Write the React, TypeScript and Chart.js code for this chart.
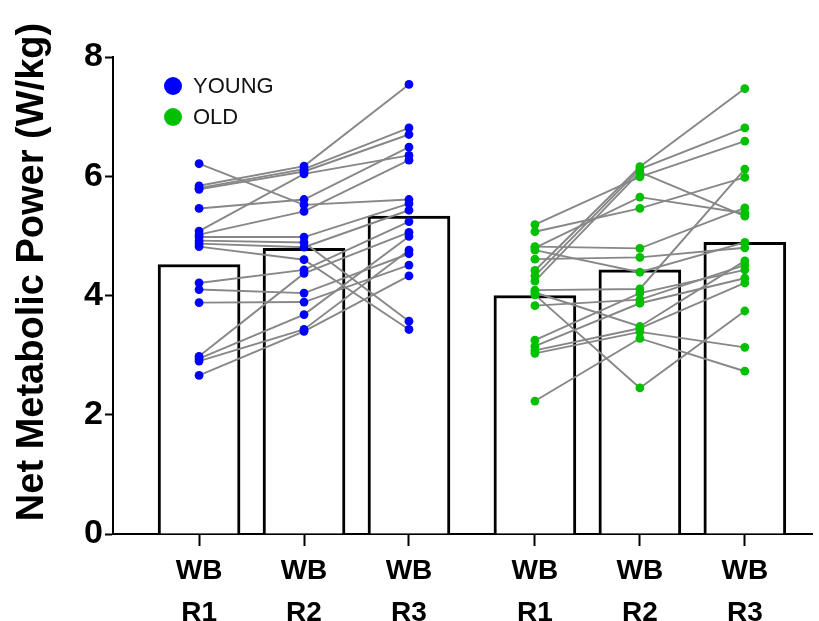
import React, { useEffect, useRef } from "react";
import { Chart, registerables } from "chart.js";

Chart.register(...registerables);

// ---- data ----
const xPositions = [1, 2, 3, 4.2, 5.2, 6.2];
const tickLabels = [
  ["WB", "R1"],
  ["WB", "R2"],
  ["WB", "R3"],
  ["WB", "R1"],
  ["WB", "R2"],
  ["WB", "R3"],
];
const barMeans = [4.52, 4.79, 5.33, 4.0, 4.43, 4.89];

const youngR1 = [6.21, 5.84, 5.8, 5.78, 5.46, 5.08, 5.02, 4.98, 4.92, 4.87, 4.82, 4.21, 4.1, 3.88, 2.98, 2.94, 2.9, 2.66];
const youngR2 = [5.52, 6.17, 6.12, 6.08, 5.61, 6.04, 5.41, 4.98, 4.89, 4.81, 4.6, 4.43, 4.04, 3.89, 4.37, 3.68, 3.43, 3.4];
const youngR3 = [5.61, 7.54, 6.81, 6.7, 6.49, 6.35, 6.27, 5.54, 3.57, 5.43, 3.43, 5.24, 4.7, 4.51, 5.06, 4.99, 4.76, 4.33];

const oldR1 = [5.19, 5.07, 4.82, 4.8, 4.76, 4.61, 4.42, 4.33, 4.24, 4.09, 4.05, 4.01, 3.83, 3.25, 3.15, 3.08, 3.03, 2.23];
const oldR2 = [5.99, 5.46, 4.79, 5.65, 4.39, 4.64, 6.16, 6.12, 6.07, 4.11, 3.48, 2.45, 3.93, 4.04, 3.87, 3.45, 3.39, 3.28];
const oldR3 = [6.59, 5.98, 5.47, 5.38, 4.89, 4.8, 7.47, 6.81, 5.33, 6.12, 4.58, 3.74, 4.51, 4.43, 4.29, 4.21, 3.13, 2.73];

const legendLabels = ["YOUNG", "OLD"];
const yTitle = "Net Metabolic Power (W/kg)";

const BLUE = "#0000ff";
const GREEN = "#00c000";
const LINE_GRAY = "#878787";
const FONT = "'Liberation Sans', Arial, Helvetica, sans-serif";

export default function App() {
  const canvasRef = useRef<HTMLCanvasElement | null>(null);

  useEffect(() => {
    const canvas = canvasRef.current;
    if (!canvas) return;

    const lineSets: any[] = [];
    youngR1.forEach((_, i) => {
      lineSets.push({
        type: "line",
        data: [
          { x: xPositions[0], y: youngR1[i] },
          { x: xPositions[1], y: youngR2[i] },
          { x: xPositions[2], y: youngR3[i] },
        ],
        borderColor: LINE_GRAY,
        borderWidth: 1.9,
        pointRadius: 0,
        fill: false,
        order: 2,
      });
    });
    oldR1.forEach((_, i) => {
      lineSets.push({
        type: "line",
        data: [
          { x: xPositions[3], y: oldR1[i] },
          { x: xPositions[4], y: oldR2[i] },
          { x: xPositions[5], y: oldR3[i] },
        ],
        borderColor: LINE_GRAY,
        borderWidth: 1.9,
        pointRadius: 0,
        fill: false,
        order: 2,
      });
    });

    const youngPts = [
      ...youngR1.map((y) => ({ x: xPositions[0], y })),
      ...youngR2.map((y) => ({ x: xPositions[1], y })),
      ...youngR3.map((y) => ({ x: xPositions[2], y })),
    ];
    const oldPts = [
      ...oldR1.map((y) => ({ x: xPositions[3], y })),
      ...oldR2.map((y) => ({ x: xPositions[4], y })),
      ...oldR3.map((y) => ({ x: xPositions[5], y })),
    ];

    const overlay = {
      id: "overlay",
      afterDraw(chart: any) {
        const ctx = chart.ctx;
        ctx.save();
        // y axis title
        ctx.translate(33, 272);
        ctx.rotate(-Math.PI / 2);
        ctx.font = `bold 38px ${FONT}`;
        ctx.fillStyle = "#000";
        ctx.textAlign = "center";
        ctx.textBaseline = "middle";
        ctx.fillText(yTitle, 0, 0);
        ctx.restore();

        // legend
        ctx.save();
        const items = [
          { label: legendLabels[0], color: BLUE, y: 86 },
          { label: legendLabels[1], color: GREEN, y: 117 },
        ];
        items.forEach((it) => {
          ctx.beginPath();
          ctx.arc(173, it.y, 9, 0, Math.PI * 2);
          ctx.fillStyle = it.color;
          ctx.fill();
          ctx.font = `22px ${FONT}`;
          ctx.fillStyle = "#111";
          ctx.textAlign = "left";
          ctx.textBaseline = "middle";
          ctx.fillText(it.label, 193, it.y + 1);
        });
        ctx.restore();
      },
    };

    const chart = new Chart(canvas, {
      type: "bar",
      data: {
        datasets: [
          {
            type: "bar",
            data: xPositions.map((x, i) => ({ x, y: barMeans[i] })),
            backgroundColor: "#ffffff",
            borderColor: "#000000",
            borderWidth: 3,
            borderSkipped: "bottom",
            barThickness: 82,
            order: 3,
          } as any,
          ...lineSets,
          {
            type: "scatter",
            data: youngPts,
            backgroundColor: BLUE,
            borderColor: BLUE,
            pointRadius: 4.4,
            borderWidth: 0,
            order: 1,
          },
          {
            type: "scatter",
            data: oldPts,
            backgroundColor: GREEN,
            borderColor: GREEN,
            pointRadius: 4.4,
            borderWidth: 0,
            order: 1,
          },
        ],
      },
      options: {
        responsive: false,
        animation: false,
        layout: { padding: { top: 57, right: 7, left: 0, bottom: 0 } },
        plugins: {
          legend: { display: false },
          tooltip: { enabled: false },
          title: { display: false },
        },
        scales: {
          x: {
            type: "linear",
            min: 0.18,
            max: 6.84,
            offset: false,
            afterBuildTicks: (scale: any) => {
              scale.ticks = xPositions.map((v) => ({ value: v }));
            },
            afterFit: (scale: any) => {
              scale.height = 87;
            },
            grid: {
              display: true,
              drawOnChartArea: false,
              drawTicks: true,
              tickLength: 12,
              tickWidth: 2,
              tickColor: "#000",
              offset: false,
            },
            border: { display: true, color: "#000", width: 2 },
            ticks: {
              autoSkip: false,
              maxRotation: 0,
              minRotation: 0,
              padding: 5,
              color: "#000",
              font: { family: FONT, size: 28, weight: "bold", lineHeight: 1.48 },
              callback: (_v: any, i: number) => tickLabels[i],
            },
          },
          y: {
            type: "linear",
            min: 0,
            max: 8,
            afterFit: (scale: any) => {
              scale.width = 113;
            },
            grid: {
              display: true,
              drawOnChartArea: false,
              drawTicks: true,
              tickLength: 8,
              tickWidth: 2,
              tickColor: "#000",
            },
            border: { display: true, color: "#000", width: 2 },
            ticks: {
              stepSize: 2,
              padding: 2,
              color: "#000",
              font: { family: FONT, size: 34, weight: "bold" },
            },
          },
        },
      } as any,
      plugins: [overlay],
    });

    return () => chart.destroy();
  }, []);

  return (
    <div style={{ position: "fixed", left: 0, top: 0, width: 819, height: 621, background: "#fff" }}>
      <canvas ref={canvasRef} width={819} height={621} style={{ display: "block" }} />
    </div>
  );
}
